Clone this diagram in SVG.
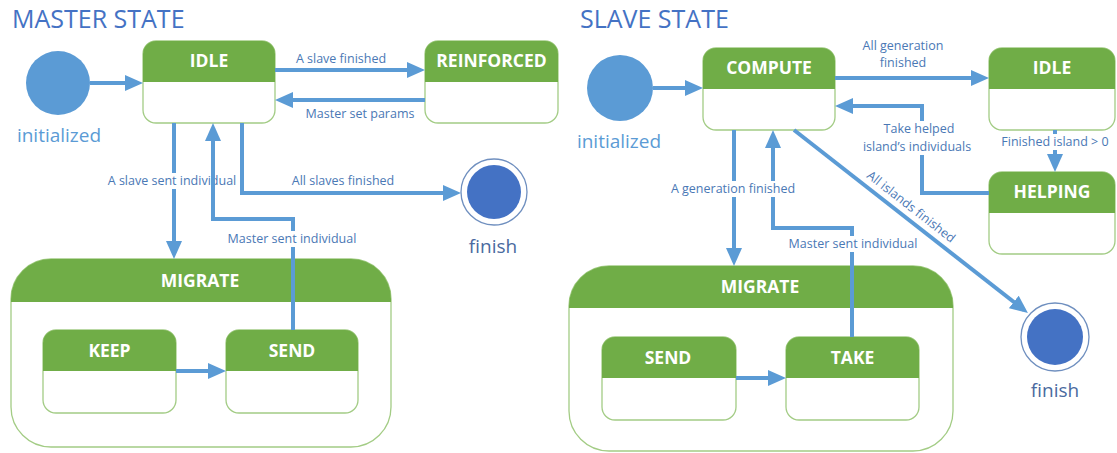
<svg xmlns="http://www.w3.org/2000/svg" width="1117" height="453" viewBox="0 0 1117 453">
<style>
.title{font-family:"Open Sans","Liberation Sans",sans-serif;font-size:25px;fill:#4472C4}
.body{fill:#fff;stroke:#A3CC85;stroke-width:1.3}
.head{fill:#70AD47}
.name{font-family:"Open Sans","Liberation Sans",sans-serif;font-size:17.5px;font-weight:bold;fill:#fff;text-anchor:middle}
.conn{fill:none;stroke:#5B9BD5;stroke-width:4;marker-end:url(#ah)}
.lbl{font-family:"Open Sans","Liberation Sans",sans-serif;font-size:12.5px;fill:#4A78B5;text-anchor:middle}
.bg{fill:#fff}
.init{fill:#5B9BD5}
.initt{font-family:"Open Sans","Liberation Sans",sans-serif;font-size:19px;fill:#5B9BD5;text-anchor:middle}
.fo{fill:#fff;stroke:#6F8FBF;stroke-width:1.3}
.fi{fill:#4472C4}
.fint{font-family:"Open Sans","Liberation Sans",sans-serif;font-size:19px;fill:#4A6AA0;text-anchor:middle}
</style>
<defs>
<marker id="ah" markerUnits="userSpaceOnUse" markerWidth="18" markerHeight="16" refX="13" refY="8" orient="auto">
<path d="M0,0 L18,8 L0,16 Z" fill="#5B9BD5"/>
</marker>
</defs>
<rect width="1117" height="453" fill="#fff"/>
<text class="title" x="12" y="28">MASTER STATE</text>
<text class="title" x="580" y="28">SLAVE STATE</text>

<!-- Master nodes -->
<g id="m-init"><circle class="init" cx="58" cy="83" r="32"/><text class="initt" x="59" y="142">initialized</text></g>
<g id="m-idle"><rect class="body" x="143" y="41" width="132" height="82" rx="13"/><path class="head" d="M143,82 V54 A13,13 0 0 1 156,41 H262 A13,13 0 0 1 275,54 V82 Z"/><text class="name" x="209" y="67">IDLE</text></g>
<g id="m-reinforced"><rect class="body" x="425" y="41" width="133" height="82" rx="13"/><path class="head" d="M425,82 V54 A13,13 0 0 1 438,41 H545 A13,13 0 0 1 558,54 V82 Z"/><text class="name" x="491.5" y="67">REINFORCED</text></g>
<g id="m-finish"><circle class="fo" cx="494" cy="192" r="33"/><circle class="fi" cx="494" cy="192" r="27"/><text class="fint" x="493" y="253">finish</text></g>
<g id="m-migrate"><rect class="body" x="11" y="259" width="380" height="188" rx="40"/><path class="head" d="M11,302 V299 A40,40 0 0 1 51,259 H351 A40,40 0 0 1 391,299 V302 Z"/><text class="name" x="200" y="287">MIGRATE</text></g>
<g id="m-keep"><rect class="body" x="43" y="330" width="133" height="83" rx="13"/><path class="head" d="M43,371 V343 A13,13 0 0 1 56,330 H163 A13,13 0 0 1 176,343 V371 Z"/><text class="name" x="109.5" y="357">KEEP</text></g>
<g id="m-send"><rect class="body" x="226" y="330" width="132" height="83" rx="13"/><path class="head" d="M226,371 V343 A13,13 0 0 1 239,330 H345 A13,13 0 0 1 358,343 V371 Z"/><text class="name" x="292" y="357">SEND</text></g>

<!-- Slave nodes -->
<g id="s-init"><circle class="init" cx="620" cy="88" r="33"/><text class="initt" x="619" y="148">initialized</text></g>
<g id="s-compute"><rect class="body" x="703" y="48" width="132" height="82" rx="13"/><path class="head" d="M703,89 V61 A13,13 0 0 1 716,48 H822 A13,13 0 0 1 835,61 V89 Z"/><text class="name" x="769" y="74">COMPUTE</text></g>
<g id="s-idle"><rect class="body" x="989" y="48" width="126" height="82" rx="13"/><path class="head" d="M989,89 V61 A13,13 0 0 1 1002,48 H1102 A13,13 0 0 1 1115,61 V89 Z"/><text class="name" x="1052" y="74">IDLE</text></g>
<g id="s-helping"><rect class="body" x="989" y="172" width="126" height="82" rx="13"/><path class="head" d="M989,213 V185 A13,13 0 0 1 1002,172 H1102 A13,13 0 0 1 1115,185 V213 Z"/><text class="name" x="1052" y="198">HELPING</text></g>
<g id="s-finish"><circle class="fo" cx="1055" cy="337" r="34"/><circle class="fi" cx="1055" cy="337" r="28"/><text class="fint" x="1055" y="397">finish</text></g>
<g id="s-migrate"><rect class="body" x="569" y="266" width="384" height="185" rx="40"/><path class="head" d="M569,308 V306 A40,40 0 0 1 609,266 H913 A40,40 0 0 1 953,306 V308 Z"/><text class="name" x="760" y="293">MIGRATE</text></g>
<g id="s-send"><rect class="body" x="602" y="337" width="134" height="83" rx="13"/><path class="head" d="M602,378 V350 A13,13 0 0 1 615,337 H723 A13,13 0 0 1 736,350 V378 Z"/><text class="name" x="668" y="364">SEND</text></g>
<g id="s-take"><rect class="body" x="786" y="337" width="133" height="83" rx="13"/><path class="head" d="M786,378 V350 A13,13 0 0 1 799,337 H906 A13,13 0 0 1 919,350 V378 Z"/><text class="name" x="852.5" y="364">TAKE</text></g>

<!-- Connectors -->
<g id="connectors">
<path class="conn" d="M90,83 H138"/>
<path class="conn" d="M275,70 H420"/>
<text class="lbl" x="341" y="63">A slave finished</text>
<path class="conn" d="M425,100 H280"/>
<text class="lbl" x="360" y="118">Master set params</text>
<path class="conn" d="M174,123 V254"/>
<rect class="bg" x="106" y="173" width="134" height="16"/>
<text class="lbl" x="172" y="185">A slave sent individual</text>
<path class="conn" d="M293,330 V219 H213 V128"/>
<rect class="bg" x="226" y="231" width="133" height="16"/>
<text class="lbl" x="292" y="243">Master sent individual</text>
<path class="conn" d="M242,123 V193 H456"/>
<text class="lbl" x="343" y="185">All slaves finished</text>
<path class="conn" d="M176,371 H221"/>

<path class="conn" d="M653,88 H698"/>
<path class="conn" d="M835,78 H984"/>
<text class="lbl" x="903" y="50">All generation</text>
<text class="lbl" x="903" y="67">finished</text>
<path class="conn" d="M989,193 H922 V106 H840"/>
<rect class="bg" x="860" y="121" width="116" height="34"/>
<text class="lbl" x="919" y="133">Take helped</text>
<text class="lbl" x="917" y="151">island’s individuals</text>
<path class="conn" d="M1055,130 V167"/>
<rect class="bg" x="1000" y="134" width="112" height="16"/>
<text class="lbl" x="1055" y="146">Finished island &gt; 0</text>
<path class="conn" d="M734,130 V261"/>
<path class="conn" d="M852,337 V228 H773 V135"/>
<rect class="bg" x="668" y="181" width="130" height="16"/>
<text class="lbl" x="733" y="193">A generation finished</text>
<rect class="bg" x="786" y="236" width="134" height="16"/>
<text class="lbl" x="853" y="248">Master sent individual</text>
<path class="conn" d="M794,130 L1024,310"/>
<text class="lbl" transform="rotate(38 911 207)" x="911" y="211">All islands finished</text>
<path class="conn" d="M736,378 H781"/>
</g>
</svg>
